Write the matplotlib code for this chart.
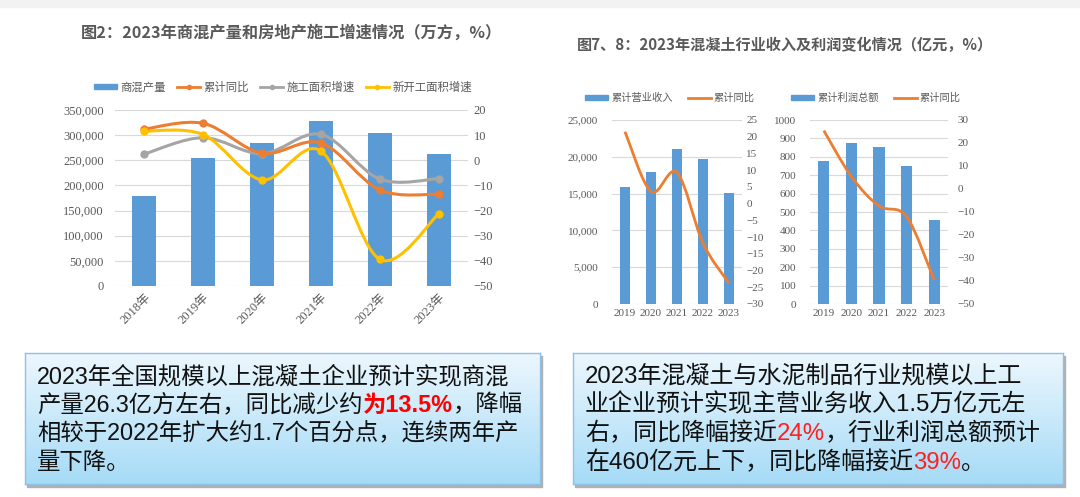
import numpy as np
import matplotlib
matplotlib.use('Agg')
import matplotlib.pyplot as plt
from matplotlib.path import Path
from matplotlib.patches import PathPatch, Rectangle
from matplotlib.lines import Line2D

plt.rcParams['font.family'] = ['Noto Sans CJK SC', 'DejaVu Sans']

# 图2 数据
years_a = ['2018年', '2019年', '2020年', '2021年', '2022年', '2023年']
output_a = [179000, 253900, 283700, 328800, 303600, 261800]     # 商混产量
yoy_a = [12.4, 14.7, 2.8, 6.9, -11.8, -13.5]                     # 累计同比
build_a = [2.5, 9.0, 2.6, 10.3, -7.5, -7.3]                      # 施工面积增速
newstart_a = [11.6, 10.2, -7.8, 3.7, -39.4, -21.4]               # 新开工面积增速

# 图7 数据
years_b = ['2019', '2020', '2021', '2022', '2023']
income_b = [15950, 17890, 21000, 19700, 15050]                    # 累计营业收入
income_yoy = [21.5, 3.6, 9.3, -11.8, -23.8]

# 图8 数据
profit_c = [779, 873, 853, 752, 456]                              # 累计利润总额
profit_yoy = [25.4, 5.4, -7.4, -12.0, -39.6]

BLUE = '#5b9bd5'; ORANGE = '#ed7d31'; GRAY = '#a5a5a5'; YELLOW = '#ffc000'
TXT = '#595959'; GRID = '#d9d9d9'
SERIF = ['Liberation Serif', 'Noto Sans CJK SC']

W, H = 1080, 497
fig = plt.figure(figsize=(W / 100, H / 100), dpi=100)
fig.patch.set_facecolor('white')
renderer = fig.canvas.get_renderer()


def rect(x0, x1, y0, y1):
    return [x0 / W, 1 - y1 / H, (x1 - x0) / W, (y1 - y0) / H]


def smooth(xs, ys):
    pts = list(zip(xs, ys))
    n = len(pts)
    verts = [pts[0]]; codes = [Path.MOVETO]
    for i in range(n - 1):
        p0 = pts[i - 1] if i > 0 else pts[i]
        p1 = pts[i]; p2 = pts[i + 1]
        p3 = pts[i + 2] if i + 2 < n else pts[i + 1]
        c1 = (p1[0] + (p2[0] - p0[0]) / 6, p1[1] + (p2[1] - p0[1]) / 6)
        c2 = (p2[0] - (p3[0] - p1[0]) / 6, p2[1] - (p3[1] - p1[1]) / 6)
        verts += [c1, c2, p2]; codes += [Path.CURVE4] * 3
    return Path(verts, codes)


def style(ax, ax2, lpad, rpad, fs):
    for a in (ax, ax2):
        for s in a.spines.values():
            s.set_visible(False)
        a.tick_params(length=0, colors=TXT, labelsize=fs)
    ax.tick_params(axis='y', pad=lpad)
    ax2.tick_params(axis='y', pad=rpad)
    ax.grid(axis='y', color=GRID, lw=0.8)
    ax.set_axisbelow(True)
    for lab in ax.get_yticklabels() + ax2.get_yticklabels() + ax.get_xticklabels():
        lab.set_family(SERIF)


# top faint band
fig.patches.append(Rectangle((0, 1 - 7 / H), 1, 7 / H, transform=fig.transFigure,
                             color='#f2f2f2', zorder=0))

# ---------- 图2 ----------
ax = fig.add_axes(rect(115, 468, 110, 286))
x = np.arange(len(years_a))
ax.bar(x, output_a, width=0.41, color=BLUE, zorder=2)
ax.set_xlim(-0.5, len(years_a) - 0.5)
ax.set_ylim(0, 350000)
ax.set_yticks(np.arange(0, 350001, 50000))
ax.set_yticklabels([f'{v:,}' for v in range(0, 350001, 50000)])
ax.set_xticks(x)
ax.set_xticklabels(years_a, rotation=45, ha='right', rotation_mode='anchor')
ax2 = ax.twinx()
ax2.set_ylim(-50, 20)
ax2.set_yticks(np.arange(-50, 21, 10))
for ys, c in [(build_a, GRAY), (yoy_a, ORANGE), (newstart_a, YELLOW)]:
    ax2.add_patch(PathPatch(smooth(x, ys), fill=False, edgecolor=c, lw=2.2, zorder=3))
    ax2.plot(x, ys, 'o', color=c, ms=5, zorder=4)
style(ax, ax2, 8, 4, 9)
ax.tick_params(axis='x', pad=4, labelsize=9)

fig.text(291 / W, 1 - 33 / H, '图2：2023年商混产量和房地产施工增速情况（万方，%）',
         ha='center', va='center', fontsize=11.7, fontweight='bold', color=TXT)
h_a = [Rectangle((0, 0), 1, 1, color=BLUE),
       Line2D([], [], color=ORANGE, lw=2, marker='o', ms=3),
       Line2D([], [], color=GRAY, lw=2, marker='o', ms=3),
       Line2D([], [], color=YELLOW, lw=2, marker='o', ms=3)]
fig.legend(h_a, ['商混产量', '累计同比', '施工面积增速', '新开工面积增速'], loc='center',
           bbox_to_anchor=(283 / W, 1 - 87 / H), ncol=4, frameon=False, fontsize=8.2,
           labelcolor=TXT, handlelength=2.0, handleheight=0.35, columnspacing=1.0,
           handletextpad=0.3)

# ---------- 图7 ----------
xb = np.arange(len(years_b))
ax = fig.add_axes(rect(612, 742, 120, 304))
ax.bar(xb, income_b, width=0.41, color=BLUE, zorder=2)
ax.set_xlim(-0.5, len(years_b) - 0.5)
ax.set_ylim(0, 25000)
ax.set_yticks(np.arange(0, 25001, 5000))
ax.set_yticklabels([f'{v:,}' for v in range(0, 25001, 5000)])
ax.set_xticks(xb)
ax.set_xticklabels(years_b)
ax2 = ax.twinx()
ax2.set_ylim(-30, 25)
ax2.set_yticks(np.arange(-30, 26, 5))
ax2.add_patch(PathPatch(smooth(xb, income_yoy), fill=False, edgecolor=ORANGE, lw=2, zorder=3))
style(ax, ax2, 10, 3, 8)

# ---------- 图8 ----------
ax = fig.add_axes(rect(810, 948, 120, 304))
ax.bar(xb, profit_c, width=0.41, color=BLUE, zorder=2)
ax.set_xlim(-0.5, len(years_b) - 0.5)
ax.set_ylim(0, 1000)
ax.set_yticks(np.arange(0, 1001, 100))
ax.set_xticks(xb)
ax.set_xticklabels(years_b)
ax2 = ax.twinx()
ax2.set_ylim(-50, 30)
ax2.set_yticks(np.arange(-50, 31, 10))
ax2.add_patch(PathPatch(smooth(xb, profit_yoy), fill=False, edgecolor=ORANGE, lw=2, zorder=3))
style(ax, ax2, 10, 7, 8)

fig.text(577 / W, 1 - 45 / H, '图7、8：2023年混凝土行业收入及利润变化情况（亿元，%）',
         ha='left', va='center', fontsize=10.9, fontweight='bold', color=TXT)
for labs, cx in [(['累计营业收入', '累计同比'], 670), (['累计利润总额', '累计同比'], 876)]:
    fig.legend([Rectangle((0, 0), 1, 1, color=BLUE), Line2D([], [], color=ORANGE, lw=2)],
               labs, loc='center', bbox_to_anchor=(cx / W, 1 - 98 / H), ncol=2,
               frameon=False, fontsize=7.4, labelcolor=TXT, handlelength=2.2,
               handleheight=0.35, columnspacing=1.5, handletextpad=0.3)

# ---------- 文本框 ----------
box_left = ['2023年全国规模以上混凝土企业预计实现商混',
            [('产量26.3亿方左右，同比减少约', None), ('为13.5%', 'bold'), ('，降幅', None)],
            '相较于2022年扩大约1.7个百分点，连续两年产',
            '量下降。']
box_right = ['2023年混凝土与水泥制品行业规模以上工',
             '业企业预计实现主营业务收入1.5万亿元左',
             [('右，同比降幅接近', None), ('24%', 'red'), ('，行业利润总额预计', None)],
             [('在460亿元上下，同比降幅接近', None), ('39%', 'red'), ('。', None)]]

grad = np.linspace(0, 1, 100).reshape(-1, 1)
cmap = matplotlib.colors.LinearSegmentedColormap.from_list('bx', ['#ecf7fd', '#a6dbf7'])
overlay = fig.add_axes([0, 0, 1, 1], zorder=10)
overlay.set_xlim(0, W); overlay.set_ylim(H, 0)
overlay.axis('off')
TFONT = ['Liberation Sans', 'Noto Sans CJK SC']
line_y = [377, 405.7, 434.3, 463]


def text_kw(kind, size):
    kw = dict(fontsize=size, family=TFONT, color='#111111')
    if kind == 'bold':
        kw.update(color='#ff0000', fontweight='bold')
    elif kind == 'red':
        kw.update(color='#ff2020')
    return kw


for (x0, x1, tx, tx_end), lines in [((25, 540, 37, 512), box_left),
                                    ((573, 1063, 585, 1025), box_right)]:
    fig.patches.append(Rectangle(((x0 + 2) / W, 1 - (484 + 3) / H), (x1 - x0) / W, 131 / H,
                                 transform=fig.transFigure, color='#b0b0b0', zorder=1))
    bx = fig.add_axes(rect(x0, x1, 353, 484), zorder=2)
    bx.imshow(grad, cmap=cmap, aspect='auto', extent=(0, 1, 0, 1))
    bx.set_xticks([]); bx.set_yticks([])
    for s in bx.spines.values():
        s.set_color('#8fc1e6'); s.set_linewidth(1)
    # font size chosen so the first line fills the same width as in the picture
    tmp = overlay.text(0, 0, lines[0], **text_kw(None, 14))
    size = 14 * (tx_end - tx) / tmp.get_window_extent(renderer).width
    tmp.remove()
    for ly, line in zip(line_y, lines):
        parts = [(line, None)] if isinstance(line, str) else line
        prev = None
        for txt, kind in parts:
            if prev is None:
                prev = overlay.text(tx, ly + 11, txt, va='bottom', ha='left',
                                    **text_kw(kind, size))
            else:
                prev = overlay.annotate(txt, xy=(1, 0), xycoords=prev, va='bottom',
                                        ha='left', **text_kw(kind, size))

fig.savefig('out.png', dpi=100)
